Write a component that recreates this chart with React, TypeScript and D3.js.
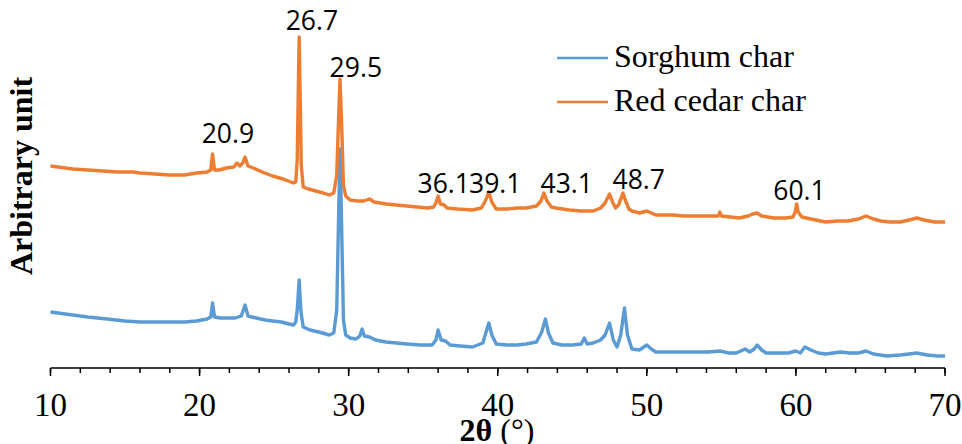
import React from "react";
import * as d3 from "d3";

// Sorghum char (blue) — 2θ and intensity (arbitrary units, already offset)
const sorghumTheta = [10.0,10.5,11.5,12.5,13.8,15.0,16.0,17.0,18.2,19.0,19.8,20.5,20.75,20.87,21.0,21.4,21.8,22.4,22.8,23.05,23.25,23.8,24.4,24.9,25.5,26.0,26.3,26.45,26.55,26.68,26.8,26.95,27.4,28.0,28.7,29.0,29.2,29.32,29.42,29.52,29.65,29.8,30.1,30.5,30.75,30.9,31.05,31.4,31.8,32.5,33.2,33.9,34.8,35.6,35.85,36.0,36.2,36.5,36.8,37.5,38.3,39.0,39.2,39.4,39.6,39.9,40.6,41.3,41.9,42.6,42.95,43.2,43.4,43.7,44.3,45.0,45.6,45.8,46.0,46.4,46.9,47.2,47.5,47.75,48.0,48.25,48.5,48.7,49.0,49.5,50.0,50.3,50.6,51.2,51.7,52.5,53.3,54.1,54.9,55.5,56.0,56.6,56.9,57.2,57.4,57.7,58.0,58.8,59.5,60.0,60.3,60.6,61.0,61.5,62.0,63.0,63.6,64.2,64.7,65.2,66.1,67.0,67.6,68.1,68.8,69.5,70.0];
const sorghumIntensity = [56,55,53,51,49,47,46,46,46,46,47,49,51,65,51,50,50,50,52,63,52,50,48,47,46,44,43,46,58,88,56,41,38,36,33,35,58,148,219,148,48,33,30,29,32,39,32,31,28,26,25,24,23,23,28,38,28,27,23,22,21,25,35,45,33,24,23,23,24,26,36,49,35,25,23,23,24,30,24,25,28,33,45,28,21,33,60,33,19,18,23,19,16,16,16,16,16,16,17,15,15,19,16,19,23,18,15,15,15,17,15,21,18,15,14,16,15,15,17,14,12,13,14,15,13,12,12];

// Red cedar char (orange)
const cedarTheta = [10.0,10.5,11.5,12.5,13.5,14.5,15.5,16.0,17.0,18.0,19.0,19.8,20.5,20.75,20.87,21.0,21.3,21.8,22.3,22.5,22.7,22.9,23.05,23.25,23.6,24.2,24.9,25.6,26.3,26.45,26.55,26.62,26.68,26.74,26.82,26.95,27.3,27.8,28.3,28.7,29.0,29.2,29.32,29.42,29.52,29.65,29.8,30.1,30.6,31.0,31.4,31.7,32.5,33.2,33.9,34.6,35.3,35.7,35.85,36.0,36.15,36.4,36.6,37.3,38.3,38.9,39.2,39.4,39.6,39.9,40.6,41.3,41.9,42.6,42.9,43.1,43.3,43.6,43.9,44.8,45.6,46.4,46.9,47.2,47.5,47.7,47.9,48.1,48.4,48.55,48.8,49.0,49.5,50.0,50.3,50.6,51.2,51.7,52.5,53.3,54.1,54.8,54.9,55.0,55.6,56.2,56.8,57.1,57.4,57.7,58.5,59.3,59.8,59.95,60.05,60.15,60.4,61.0,62.0,62.8,63.5,64.2,64.7,65.2,65.7,66.3,67.0,67.6,68.1,68.6,69.3,70.0];
const cedarIntensity = [202,201,199,198,197,196,196,195,194,193,193,195,196,198,214,198,198,200,201,205,202,205,211,202,200,196,192,189,185,186,208,278,331,278,203,181,179,177,175,173,175,193,248,289,248,183,172,168,167,167,169,166,164,163,162,161,160,161,165,172,164,163,160,159,158,160,168,176,166,159,159,160,160,162,167,175,167,161,160,158,157,157,160,165,174,166,160,163,175,168,159,157,155,157,155,153,153,153,152,152,152,152,156,152,151,150,152,154,155,152,150,150,151,156,164,156,151,149,146,147,147,149,152,149,147,146,146,148,150,148,146,146];

const xTicks = [10, 20, 30, 40, 50, 60, 70];
const xMinorTicks = d3.range(10, 70.001, 2);

const peakLabels = ["20.9", "26.7", "29.5", "36.1", "39.1", "43.1", "48.7", "60.1"];
const peakLabelTheta = [21.9, 27.53, 30.48, 36.38, 39.83, 44.63, 49.46, 60.24];
const peakLabelIntensity = [225, 338, 291, 175, 175, 175, 179, 168];

const seriesNames = ["Sorghum char", "Red cedar char"];
const seriesColors = ["#5B9BD5", "#ED7D31"];

export default function App() {
  const W = 962, H = 444;
  const x = d3.scaleLinear().domain([10, 70]).range([50.5, 945]);
  const y = d3.scaleLinear().domain([0, 368]).range([368, 0]);
  const line = d3.line<[number, number]>().x(d => x(d[0])).y(d => y(d[1]));
  const sorghum = sorghumTheta.map((t, i) => [t, sorghumIntensity[i]] as [number, number]);
  const cedar = cedarTheta.map((t, i) => [t, cedarIntensity[i]] as [number, number]);
  const axisY = y(0);
  const serif = "'Times New Roman', 'Liberation Serif', serif";
  const sans = "'Open Sans', 'Liberation Sans', sans-serif";

  return (
    <svg width={W} height={H} style={{ position: "absolute", left: 0, top: 0, background: "#fff" }}>
      {/* series */}
      <path d={line(sorghum) || ""} fill="none" stroke={seriesColors[0]} strokeWidth={3.4} strokeLinejoin="round" />
      <path d={line(cedar) || ""} fill="none" stroke={seriesColors[1]} strokeWidth={3.4} strokeLinejoin="round" />

      {/* x axis */}
      <line x1={x(10)} x2={x(70)} y1={axisY} y2={axisY} stroke="#000" strokeWidth={1.5} />
      {xMinorTicks.map(t => (
        <line key={"m" + t} x1={x(t)} x2={x(t)} y1={axisY} y2={axisY + 5} stroke="#000" strokeWidth={1.5} />
      ))}
      {xTicks.map(t => (
        <g key={t}>
          <line x1={x(t)} x2={x(t)} y1={axisY} y2={axisY + 8} stroke="#000" strokeWidth={1.5} />
          <text x={x(t)} y={416} textAnchor="middle" fontFamily={serif} fontSize={33} fill="#000">{t}</text>
        </g>
      ))}
      <text x={497} y={441} textAnchor="middle" fontFamily={serif} fontSize={32} fill="#000">
        <tspan fontWeight="bold">2θ</tspan><tspan> (°)</tspan>
      </text>
      <text transform={`translate(32,176) rotate(-90)`} textAnchor="middle" fontFamily={serif} fontSize={32} fontWeight="bold" fill="#000">Arbitrary unit</text>

      {/* peak labels */}
      {peakLabels.map((l, i) => (
        <text key={l} x={x(peakLabelTheta[i])} y={y(peakLabelIntensity[i])} textAnchor="middle" fontFamily={sans} fontSize={26.5} fill="#000">{l}</text>
      ))}

      {/* legend */}
      {seriesNames.map((n, i) => (
        <g key={n}>
          <line x1={557} x2={608} y1={58 + i * 44} y2={58 + i * 44} stroke={seriesColors[i]} strokeWidth={2.5} />
          <text x={614} y={67 + i * 44} fontFamily={serif} fontSize={32} fill="#000">{n}</text>
        </g>
      ))}
    </svg>
  );
}
